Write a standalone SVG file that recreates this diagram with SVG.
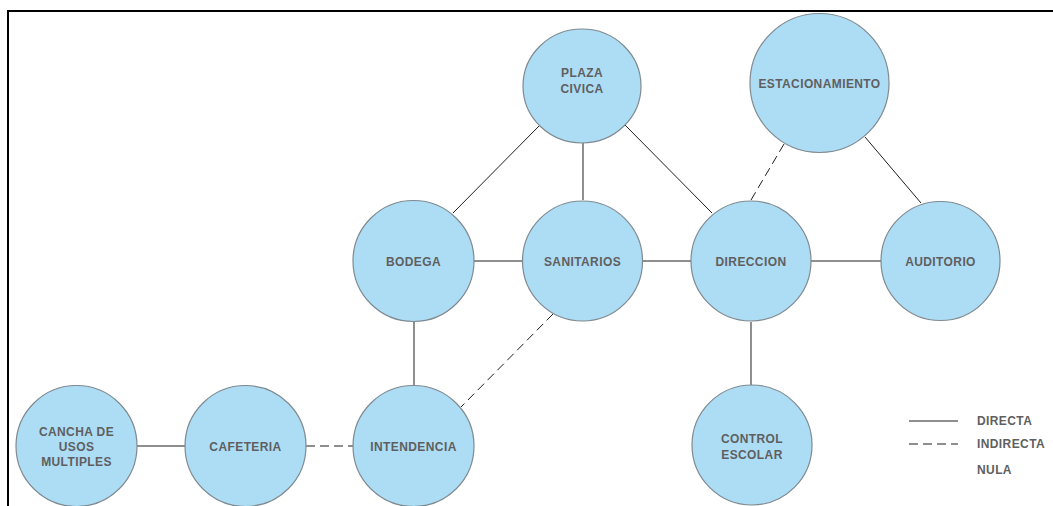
<svg xmlns="http://www.w3.org/2000/svg" width="1053" height="506" viewBox="0 0 1053 506">
<style>
.n{fill:#addcf5;stroke:#7f8a90;stroke-width:1.2}
.t{font-family:"Liberation Sans",Arial,sans-serif;font-weight:bold;font-size:12px;fill:#5f5f5f;text-anchor:middle;letter-spacing:0.4px}
.l{font-family:"Liberation Sans",Arial,sans-serif;font-weight:bold;font-size:12px;fill:#5f5f5f;letter-spacing:0.4px}
.c{stroke:#1e1e1e;stroke-width:1;fill:none}
.d{stroke-dasharray:9 5}
</style>
<rect width="1053" height="506" fill="#fff"/>
<path d="M8,506 V11 H1053" fill="none" stroke="#000" stroke-width="2"/>
<g id="connectors">
<line class="c" x1="540" y1="125" x2="453" y2="213"/>
<line class="c" x1="583" y1="142" x2="583" y2="200"/>
<line class="c" x1="625" y1="125" x2="712" y2="213"/>
<line class="c d" x1="784" y1="144" x2="751" y2="200"/>
<line class="c" x1="865" y1="137" x2="921" y2="203"/>
<line class="c" x1="474" y1="261" x2="523" y2="261"/>
<line class="c" x1="642" y1="261" x2="691" y2="261"/>
<line class="c" x1="811" y1="261" x2="881" y2="261"/>
<line class="c" x1="414" y1="322" x2="414" y2="385"/>
<line class="c d" x1="553" y1="314" x2="461" y2="407"/>
<line class="c" x1="751" y1="322" x2="751" y2="385"/>
<line class="c" x1="137" y1="446" x2="185" y2="446"/>
<line class="c d" x1="306" y1="446" x2="353" y2="446"/>
</g>
<g id="plaza-civica"><ellipse class="n" cx="582" cy="86" rx="59" ry="57"/><text class="t" x="582" y="77">PLAZA</text><text class="t" x="582" y="93">CIVICA</text></g>
<g id="estacionamiento"><circle class="n" cx="819.5" cy="83" r="69.5"/><text class="t" x="819.5" y="88">ESTACIONAMIENTO</text></g>
<g id="bodega"><circle class="n" cx="413.5" cy="261" r="60.5"/><text class="t" x="413.5" y="266">BODEGA</text></g>
<g id="sanitarios"><circle class="n" cx="582.5" cy="261" r="60"/><text class="t" x="582.5" y="266">SANITARIOS</text></g>
<g id="direccion"><circle class="n" cx="751" cy="261" r="60"/><text class="t" x="751" y="266">DIRECCION</text></g>
<g id="auditorio"><circle class="n" cx="940.5" cy="261" r="59.5"/><text class="t" x="940.5" y="266">AUDITORIO</text></g>
<g id="cancha"><circle class="n" cx="76.5" cy="446" r="60.5"/><text class="t" x="76.5" y="436">CANCHA DE</text><text class="t" x="76.5" y="451">USOS</text><text class="t" x="76.5" y="466">MULTIPLES</text></g>
<g id="cafeteria"><circle class="n" cx="245.5" cy="446" r="60.5"/><text class="t" x="245.5" y="451">CAFETERIA</text></g>
<g id="intendencia"><circle class="n" cx="413.5" cy="446" r="60.5"/><text class="t" x="413.5" y="451">INTENDENCIA</text></g>
<g id="control-escolar"><circle class="n" cx="752" cy="445" r="60"/><text class="t" x="752" y="443">CONTROL</text><text class="t" x="752" y="459">ESCOLAR</text></g>
<g id="legend">
<line class="c" x1="909" y1="421" x2="958" y2="421"/>
<line class="c d" x1="909" y1="444" x2="958" y2="444"/>
<text class="l" x="977" y="425">DIRECTA</text>
<text class="l" x="977" y="448">INDIRECTA</text>
<text class="l" x="977" y="474">NULA</text>
</g>
</svg>
